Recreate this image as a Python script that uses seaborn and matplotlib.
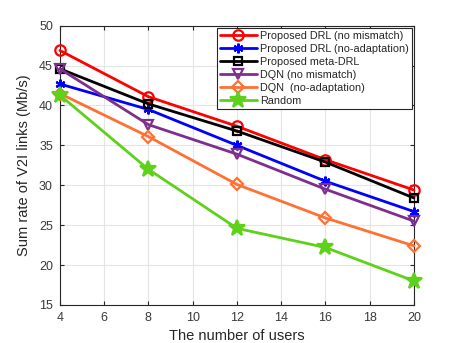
import matplotlib
matplotlib.use("Agg")
import matplotlib.pyplot as plt
import seaborn as sns
import pandas as pd

users = [4, 8, 12, 16, 20]
drl_no_mismatch = [46.9, 41.1, 37.4, 33.2, 29.4]
drl_no_adapt = [42.7, 39.5, 35.0, 30.5, 26.7]
meta_drl = [44.6, 40.2, 36.8, 32.9, 28.4]
dqn_no_mismatch = [44.6, 37.6, 33.9, 29.5, 25.5]
dqn_no_adapt = [41.5, 36.1, 30.1, 25.9, 22.4]
random_sched = [41.3, 32.0, 24.6, 22.2, 18.0]

labels = ["Proposed DRL (no mismatch)", "Proposed DRL (no-adaptation)",
          "Proposed meta-DRL", "DQN (no mismatch)", "DQN  (no-adaptation)", "Random"]
series = [drl_no_mismatch, drl_no_adapt, meta_drl, dqn_no_mismatch, dqn_no_adapt, random_sched]
colors = ["#FF0000", "#0000FF", "#000000", "#7E2F8E", "#FF7033", "#5ED11A"]
markers = ["o", (6, 2, 0), "s", "v", "D", "*"]
msizes = [7.5, 7, 5.5, 7.5, 6, 12]
fills = [False, True, False, False, False, True]

sns.set_style("whitegrid")
plt.rcParams['font.family'] = ['Liberation Sans', 'DejaVu Sans']

fig = plt.figure(figsize=(4.57, 3.43), dpi=100)
ax = fig.add_axes([0.131, 0.111, 0.775, 0.814])

for lab, vals, c, m, ms, f in zip(labels, series, colors, markers, msizes, fills):
    df = pd.DataFrame({"x": users, "y": vals})
    sns.lineplot(data=df, x="x", y="y", ax=ax, color=c, linewidth=2, label=lab,
                 marker=m, markersize=ms, markeredgewidth=1.6,
                 markerfacecolor=(c if f else "none"), markeredgecolor=c, clip_on=False, zorder=3)

ax.set_xlim(4, 20)
ax.set_ylim(15, 50)
ax.set_xticks([4, 6, 8, 10, 12, 14, 16, 18, 20])
ax.set_yticks([15, 20, 25, 30, 35, 40, 45, 50])
ax.grid(True, color="#E5E5E5", linewidth=0.8)
ax.set_axisbelow(True)
for s in ax.spines.values():
    s.set_color("#262626")
    s.set_linewidth(0.8)
ax.tick_params(direction="in", length=3, labelsize=9, colors="#262626", labelcolor="#3a3a3a",
               top=True, right=True, left=True, bottom=True, pad=5)
ax.set_xlabel("The number of users", fontsize=10.5, color="#262626", labelpad=4)
ax.set_ylabel("Sum rate of V2I links (Mb/s)", fontsize=10.5, color="#262626", labelpad=6)

leg = ax.legend(loc="upper right", fontsize=7.8, frameon=True, fancybox=False,
                edgecolor="#262626", framealpha=1, borderpad=0.3, labelspacing=0.27,
                handlelength=3.4, handletextpad=0.3, borderaxespad=0.2)
leg.get_frame().set_linewidth(0.8)
leg.set_zorder(5)

fig.savefig("out.png", dpi=100)
